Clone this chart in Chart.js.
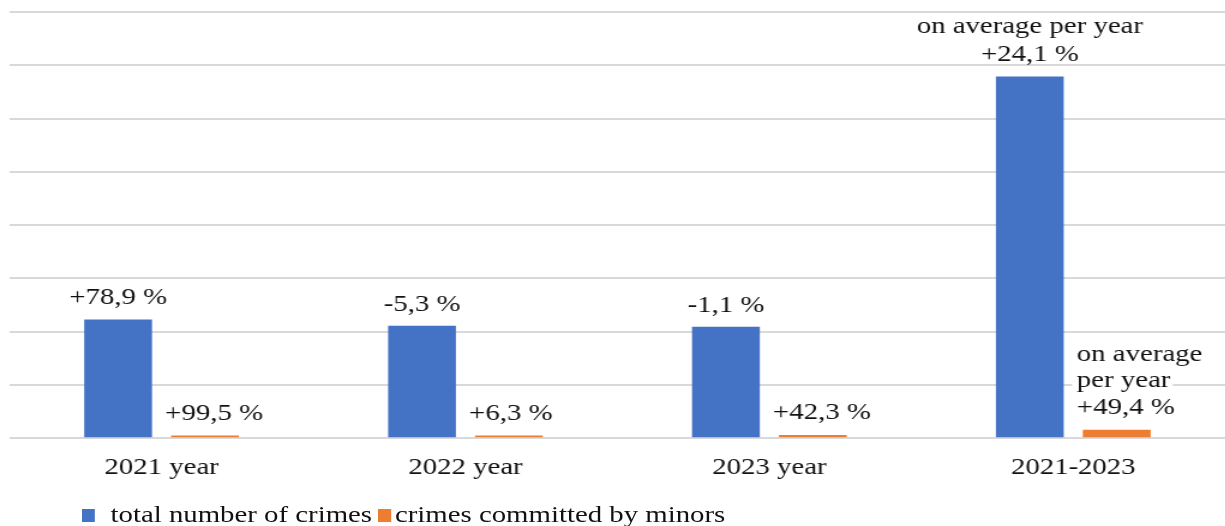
<!DOCTYPE html>
<html>
<head>
<meta charset="utf-8">
<script src="https://cdn.jsdelivr.net/npm/chart.js@4.4.1/dist/chart.umd.min.js"></script>
<style>
  html, body { margin: 0; padding: 0; background: #fff; overflow: hidden; }
  /* the source picture is stretched sideways, so the whole stage is too */
  #stage { position: relative; width: 1021px; height: 526px; transform: scaleX(1.2); transform-origin: 0 0;
           font-family: 'Liberation Serif', 'Times New Roman', serif; }
  #chart { display: block; }
  #legend { position: absolute; left: 68px; top: 500px; font-size: 24px; line-height: 28px; color: #111; white-space: nowrap; }
  .sw { display: inline-block; width: 10.8px; height: 13px; vertical-align: baseline; }
</style>
</head>
<body>
<div id="stage">
  <canvas id="chart" width="1021" height="526"></canvas>
  <div id="legend"></div>
</div>
<script>
const categories = ['2021 year', '2022 year', '2023 year', '2021-2023'];
const seriesNames = ['total number of crimes', 'crimes committed by minors'];
const seriesColors = ['#4472c4', '#ed7d31'];

const totalCrimes = [2.23, 2.11, 2.09, 6.79];
const minorCrimes = [0.05, 0.05, 0.06, 0.16];

const totalLabels = [['+78,9 %'], ['-5,3 %'], ['-1,1 %'], ['on average per year', '+24,1 %']];
const minorLabels = [['+99,5 %'], ['+6,3 %'], ['+42,3 %'], ['on average', 'per year', '+49,4 %']];

const labelSets = [totalLabels, minorLabels];

// blue labels centred over the bar, orange ones left-aligned near the bar edge
const labelStyle = [
  { align: 'center', gap: 15, lineHeight: 28, bg: false },
  { align: 'left', gap: 16, lineHeight: 26.5, bg: true },
];

const valueLabels = {
  id: 'valueLabels',
  afterDatasetsDraw(chart) {
    const ctx = chart.ctx;
    ctx.save();
    ctx.font = "24px 'Liberation Serif'";
    ctx.textBaseline = 'alphabetic';
    ctx.textAlign = 'left';
    chart.data.datasets.forEach((ds, di) => {
      const meta = chart.getDatasetMeta(di);
      const st = labelStyle[di];
      meta.data.forEach((bar, i) => {
        const lines = labelSets[di][i];
        const n = lines.length;
        lines.forEach((txt, li) => {
          const y = bar.y - st.gap - (n - 1 - li) * st.lineHeight;
          const w = ctx.measureText(txt).width;
          const x = st.align === 'center' ? bar.x - w / 2 : bar.x - bar.width / 2 - 5;
          if (st.bg) {
            ctx.fillStyle = '#fff';
            ctx.fillRect(x - 4, y - 19, w + 6, 25);
          }
          ctx.fillStyle = '#111';
          ctx.fillText(txt, x, y);
        });
      });
    });
    ctx.restore();
  }
};

const ctx = document.getElementById('chart').getContext('2d');
const chart = new Chart(ctx, {
  type: 'bar',
  data: {
    labels: categories,
    datasets: [
      {
        label: seriesNames[0],
        data: totalCrimes,
        backgroundColor: seriesColors[0],
        categoryPercentage: 0.572,
        barPercentage: 0.78,
      },
      {
        label: seriesNames[1],
        data: minorCrimes,
        backgroundColor: seriesColors[1],
        categoryPercentage: 0.572,
        barPercentage: 0.78,
      },
    ],
  },
  options: {
    responsive: false,
    animation: false,
    layout: { padding: { left: 8, right: 0, top: 12, bottom: 29 } },
    plugins: {
      legend: { display: false },
      tooltip: { enabled: false },
    },
    scales: {
      x: {
        grid: { display: false, drawTicks: false },
        border: { display: false },
        ticks: {
          color: '#111',
          font: { family: 'Liberation Serif', size: 24 },
          padding: 15,
          maxRotation: 0,
          autoSkip: false,
        },
      },
      y: {
        min: 0,
        max: 8,
        ticks: { display: false, stepSize: 1 },
        grid: { color: '#d9d9d9', lineWidth: 2, drawTicks: false },
        border: { display: false },
      },
    },
  },
  plugins: [valueLabels],
});

// legend below the plot
const legend = document.getElementById('legend');
const gaps = [13.3, 3.3];
chart.data.datasets.forEach((ds, i) => {
  const sw = document.createElement('span');
  sw.className = 'sw';
  sw.style.background = ds.backgroundColor;
  sw.style.marginRight = gaps[i] + 'px';
  if (i > 0) sw.style.marginLeft = '5px';
  legend.appendChild(sw);
  legend.appendChild(document.createTextNode(ds.label));
});
</script>
</body>
</html>
